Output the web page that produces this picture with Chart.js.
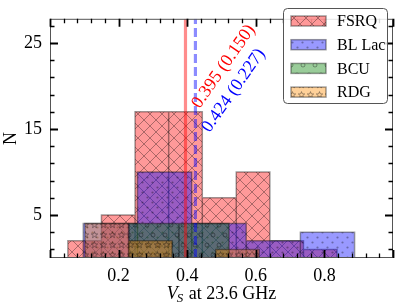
<!DOCTYPE html>
<html><head><meta charset="utf-8">
<script src="https://cdn.jsdelivr.net/npm/chart.js@4"></script>
<style>html,body{margin:0;padding:0;background:#fff}#wrap{width:396px;height:307px}</style>
</head><body><div id="wrap"><canvas id="c" width="396" height="307"></canvas></div>
<script>
// ---- data ----
const seriesNames = ['FSRQ', 'BL Lac', 'BCU', 'RDG'];
const fsrqEdges  = [0.052, 0.150, 0.248, 0.346, 0.444, 0.543, 0.641, 0.739, 0.837];
const fsrqCounts = [2, 5, 17, 17, 7, 10, 2, 1];
const blLacEdges  = [0.097, 0.255, 0.413, 0.572, 0.730, 0.888];
const blLacCounts = [4, 10, 4, 2, 3];
const bcuEdges  = [0.230, 0.376, 0.522];
const bcuCounts = [4, 4];
const rdgEdges  = [0.102, 0.229, 0.356, 0.483, 0.610];
const rdgCounts = [4, 2, 0, 1];
const medianValues = [0.395, 0.424];
const medianLabels = ['0.395 (0.150)', '0.424 (0.227)'];
const medianLabelY = [17.3, 14.5];
const xTickValues = [0.2, 0.4, 0.6, 0.8];
const yTickValues = [5, 15, 25];
const xRange = [0, 1];
const yRange = [0, 27.8];

// ---- styles ----
const fills  = ['rgba(255,0,0,0.4)', 'rgba(0,0,255,0.4)', 'rgba(0,128,0,0.4)', 'rgba(255,140,0,0.4)'];
const hatches = ['x', '.', 'o', '*'];
const edgeCol = 'rgba(0,0,0,0.38)';
const hatchCol = 'rgba(0,0,0,0.33)';
const SERIF = '"Liberation Serif", "Times New Roman", serif';

function makePattern(kind, bg) {
  let w = 12, h = 12;
  if (kind === '.') { w = 10; h = 10; }
  if (kind === 'o') { w = 12; h = 20; }
  if (kind === '*') { w = 9; h = 10; }
  const c = document.createElement('canvas');
  c.width = w; c.height = h;
  const g = c.getContext('2d');
  g.fillStyle = bg; g.fillRect(0, 0, w, h);
  g.strokeStyle = hatchCol; g.fillStyle = hatchCol; g.lineWidth = 1;
  if (kind === 'x') {
    g.beginPath(); g.moveTo(0, 0); g.lineTo(w, h); g.moveTo(0, h); g.lineTo(w, 0); g.stroke();
  } else if (kind === '.') {
    [[2.5, 2.5], [7.5, 7.5]].forEach(([x, y]) => { g.beginPath(); g.arc(x, y, 1.1, 0, Math.PI * 2); g.fill(); });
  } else if (kind === 'o') {
    [[3, 5], [9, 15]].forEach(([x, y]) => { g.beginPath(); g.arc(x, y, 2, 0, Math.PI * 2); g.stroke(); });
  } else if (kind === '*') {
    const cx = 4.5, cy = 5, R = 3.4, r = 1.4;
    g.beginPath();
    for (let i = 0; i < 10; i++) {
      const a = -Math.PI / 2 + i * Math.PI / 5, rr = i % 2 ? r : R;
      const px = cx + rr * Math.cos(a), py = cy + rr * Math.sin(a);
      i ? g.lineTo(px, py) : g.moveTo(px, py);
    }
    g.closePath(); g.stroke();
  }
  return document.getElementById('c').getContext('2d').createPattern(c, 'repeat');
}
const patterns = hatches.map((h, i) => makePattern(h, fills[i]));

function outline(edges, counts) {
  const pts = [];
  for (let i = 0; i < counts.length; i++) {
    pts.push({x: edges[i], y: 0}, {x: edges[i], y: counts[i]},
             {x: edges[i + 1], y: counts[i]}, {x: edges[i + 1], y: 0});
  }
  return pts;
}
const histData = [outline(fsrqEdges, fsrqCounts), outline(blLacEdges, blLacCounts),
                  outline(bcuEdges, bcuCounts), outline(rdgEdges, rdgCounts)];

const datasets = histData.map((d, i) => ({
  label: seriesNames[i], data: d, fill: 'origin', backgroundColor: patterns[i],
  borderColor: edgeCol, borderWidth: 1.5, pointRadius: 0, tension: 0, order: 10 - i
}));
datasets.push({label: 'm0', data: [{x: medianValues[0], y: yRange[0]}, {x: medianValues[0], y: yRange[1]}],
  borderColor: 'rgba(255,0,0,0.45)', borderWidth: 3.2, pointRadius: 0, fill: false, order: 2});
datasets.push({label: 'm1', data: [{x: medianValues[1], y: yRange[0]}, {x: medianValues[1], y: yRange[1]}],
  borderColor: 'rgba(0,0,255,0.45)', borderWidth: 3.2, borderDash: [9, 4], pointRadius: 0, fill: false, order: 1});

const decor = {
  id: 'decor',
  afterDatasetsDraw(chart) {
    const {ctx, chartArea: a, scales: {x, y}} = chart;
    ctx.save();
    // median texts
    ctx.font = '18px ' + SERIF; ctx.textAlign = 'left'; ctx.textBaseline = 'alphabetic';
    ['#ff0000', '#0000ff'].forEach((col, i) => {
      ctx.save();
      ctx.translate(x.getPixelForValue(medianValues[i]) + 14, y.getPixelForValue(medianLabelY[i]));
      ctx.rotate(-55 * Math.PI / 180);
      ctx.fillStyle = col; ctx.fillText(medianLabels[i], 0, 0);
      ctx.restore();
    });
    // spines
    ctx.strokeStyle = '#555'; ctx.lineWidth = 1;
    ctx.strokeRect(a.left + 0.5, a.top + 0.5, a.right - a.left - 1, a.bottom - a.top - 1);
    // ticks
    ctx.strokeStyle = '#000';
    for (let k = 0; k <= 25; k++) {
      const v = xRange[0] + k * 0.04, px = Math.round(x.getPixelForValue(v)) + 0.5;
      const major = k % 5 === 0, L = major ? 8 : 4.5;
      ctx.lineWidth = major ? 1.8 : 1.3;
      ctx.beginPath(); ctx.moveTo(px, a.bottom); ctx.lineTo(px, a.bottom - L);
      ctx.moveTo(px, a.top); ctx.lineTo(px, a.top + L); ctx.stroke();
    }
    for (let v = 1; v <= 27; v += 2) {
      const py = Math.round(y.getPixelForValue(v)) + 0.5;
      const major = v % 10 === 5, L = major ? 8 : 4.5;
      ctx.lineWidth = major ? 1.8 : 1.3;
      ctx.beginPath(); ctx.moveTo(a.left, py); ctx.lineTo(a.left + L, py);
      ctx.moveTo(a.right, py); ctx.lineTo(a.right - L, py); ctx.stroke();
    }
    // axis titles
    ctx.fillStyle = '#000'; ctx.textAlign = 'left'; ctx.textBaseline = 'alphabetic';
    const mid = (a.left + a.right) / 2;
    ctx.font = 'italic 18px ' + SERIF; const wV = ctx.measureText('V').width;
    ctx.font = 'italic 13px ' + SERIF; const wS = ctx.measureText('S').width;
    ctx.font = '18px ' + SERIF; const rest = ' at 23.6 GHz', wR = ctx.measureText(rest).width;
    let sx = mid - (wV + wS + wR) / 2; const by = 299;
    ctx.font = 'italic 18px ' + SERIF; ctx.fillText('V', sx, by); sx += wV - 1;
    ctx.font = 'italic 13px ' + SERIF; ctx.fillText('S', sx, by + 3); sx += wS + 1;
    ctx.font = '18px ' + SERIF; ctx.fillText(rest, sx, by);
    ctx.save(); ctx.translate(16, (a.top + a.bottom) / 2); ctx.rotate(-Math.PI / 2);
    ctx.textAlign = 'center'; ctx.fillText('N', 0, 0); ctx.restore();
    // legend
    const lx = 283.5, ly = 8.5, lw = 104, lh = 95;
    ctx.beginPath(); ctx.roundRect(lx, ly, lw, lh, 4);
    ctx.fillStyle = 'rgba(255,255,255,0.85)'; ctx.fill();
    ctx.strokeStyle = '#555'; ctx.lineWidth = 1; ctx.stroke();
    ctx.font = '16px ' + SERIF; ctx.textBaseline = 'middle';
    seriesNames.forEach((n, i) => {
      const cy = 21 + i * 23.7;
      ctx.fillStyle = patterns[i]; ctx.fillRect(291, cy - 5, 35, 10);
      ctx.strokeStyle = edgeCol; ctx.lineWidth = 1.5; ctx.strokeRect(291, cy - 5, 35, 10);
      ctx.fillStyle = '#000'; ctx.fillText(n, 337, cy + 1);
    });
    ctx.restore();
  }
};

new Chart(document.getElementById('c'), {
  type: 'line',
  data: {datasets},
  options: {
    responsive: false, animation: false, devicePixelRatio: 1,
    layout: {padding: {left: 0, right: 3, top: 4, bottom: 0}},
    plugins: {legend: {display: false}, tooltip: {enabled: false}},
    scales: {
      x: {type: 'linear', min: xRange[0], max: xRange[1],
        afterFit: s => { s.height = 49; },
        afterBuildTicks: s => { s.ticks = xTickValues.map(v => ({value: v})); },
        grid: {display: false, drawTicks: false}, border: {display: false},
        ticks: {padding: 7, maxRotation: 0, autoSkip: false, color: '#000', font: {family: SERIF, size: 18},
          callback: v => v.toFixed(1)}},
      y: {type: 'linear', min: yRange[0], max: yRange[1],
        afterFit: s => { s.width = 50; },
        afterBuildTicks: s => { s.ticks = yTickValues.map(v => ({value: v})); },
        grid: {display: false, drawTicks: false}, border: {display: false},
        ticks: {padding: 8, autoSkip: false, color: '#000', font: {family: SERIF, size: 18}}}
    }
  },
  plugins: [decor]
});
</script></body></html>
